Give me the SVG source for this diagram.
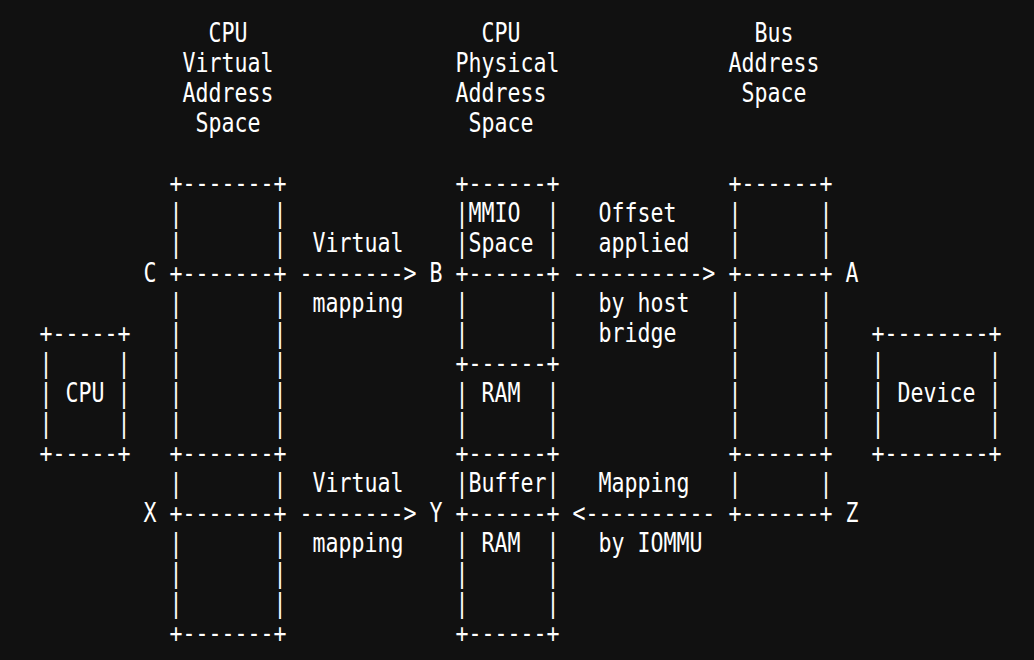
<svg xmlns="http://www.w3.org/2000/svg" width="1034" height="660" viewBox="0 0 1034 660" xml:space="preserve">
<style>
text{font-family:"DejaVu Sans Mono","Liberation Mono",monospace;font-size:26px;fill:#ffffff;white-space:pre}
</style>
<rect width="1034" height="660" fill="#111111"/>
<g id="headers">
<text transform="translate(208.5,42) scale(0.8305,1)">CPU</text>
<text transform="translate(182.5,72) scale(0.8305,1)">Virtual</text>
<text transform="translate(182.5,102) scale(0.8305,1)">Address</text>
<text transform="translate(195.5,132) scale(0.8305,1)">Space</text>
<text transform="translate(481.5,42) scale(0.8305,1)">CPU</text>
<text transform="translate(455.5,72) scale(0.8305,1)">Physical</text>
<text transform="translate(455.5,102) scale(0.8305,1)">Address</text>
<text transform="translate(468.5,132) scale(0.8305,1)">Space</text>
<text transform="translate(754.5,42) scale(0.8305,1)">Bus</text>
<text transform="translate(728.5,72) scale(0.8305,1)">Address</text>
<text transform="translate(741.5,102) scale(0.8305,1)">Space</text>
</g>
<g id="cpu-virtual-space">
<text transform="translate(169.5,192) scale(0.8305,1)">+-------+</text>
<text transform="translate(169.5,222) scale(0.8305,1)">|       |</text>
<text transform="translate(169.5,252) scale(0.8305,1)">|       |</text>
<text transform="translate(169.5,282) scale(0.8305,1)">+-------+</text>
<text transform="translate(169.5,312) scale(0.8305,1)">|       |</text>
<text transform="translate(169.5,342) scale(0.8305,1)">|       |</text>
<text transform="translate(169.5,372) scale(0.8305,1)">|       |</text>
<text transform="translate(169.5,402) scale(0.8305,1)">|       |</text>
<text transform="translate(169.5,432) scale(0.8305,1)">|       |</text>
<text transform="translate(169.5,462) scale(0.8305,1)">+-------+</text>
<text transform="translate(169.5,492) scale(0.8305,1)">|       |</text>
<text transform="translate(169.5,522) scale(0.8305,1)">+-------+</text>
<text transform="translate(169.5,552) scale(0.8305,1)">|       |</text>
<text transform="translate(169.5,582) scale(0.8305,1)">|       |</text>
<text transform="translate(169.5,612) scale(0.8305,1)">|       |</text>
<text transform="translate(169.5,642) scale(0.8305,1)">+-------+</text>
<text transform="translate(143.5,282) scale(0.8305,1)">C</text>
<text transform="translate(143.5,522) scale(0.8305,1)">X</text>
</g>
<g id="cpu-physical-space">
<text transform="translate(455.5,192) scale(0.8305,1)">+------+</text>
<text transform="translate(455.5,222) scale(0.8305,1)">|MMIO  |</text>
<text transform="translate(455.5,252) scale(0.8305,1)">|Space |</text>
<text transform="translate(455.5,282) scale(0.8305,1)">+------+</text>
<text transform="translate(455.5,312) scale(0.8305,1)">|      |</text>
<text transform="translate(455.5,342) scale(0.8305,1)">|      |</text>
<text transform="translate(455.5,372) scale(0.8305,1)">+------+</text>
<text transform="translate(455.5,402) scale(0.8305,1)">| RAM  |</text>
<text transform="translate(455.5,432) scale(0.8305,1)">|      |</text>
<text transform="translate(455.5,462) scale(0.8305,1)">+------+</text>
<text transform="translate(455.5,492) scale(0.8305,1)">|Buffer|</text>
<text transform="translate(455.5,522) scale(0.8305,1)">+------+</text>
<text transform="translate(455.5,552) scale(0.8305,1)">| RAM  |</text>
<text transform="translate(455.5,582) scale(0.8305,1)">|      |</text>
<text transform="translate(455.5,612) scale(0.8305,1)">|      |</text>
<text transform="translate(455.5,642) scale(0.8305,1)">+------+</text>
<text transform="translate(429.5,282) scale(0.8305,1)">B</text>
<text transform="translate(429.5,522) scale(0.8305,1)">Y</text>
</g>
<g id="bus-address-space">
<text transform="translate(728.5,192) scale(0.8305,1)">+------+</text>
<text transform="translate(728.5,222) scale(0.8305,1)">|      |</text>
<text transform="translate(728.5,252) scale(0.8305,1)">|      |</text>
<text transform="translate(728.5,282) scale(0.8305,1)">+------+</text>
<text transform="translate(728.5,312) scale(0.8305,1)">|      |</text>
<text transform="translate(728.5,342) scale(0.8305,1)">|      |</text>
<text transform="translate(728.5,372) scale(0.8305,1)">|      |</text>
<text transform="translate(728.5,402) scale(0.8305,1)">|      |</text>
<text transform="translate(728.5,432) scale(0.8305,1)">|      |</text>
<text transform="translate(728.5,462) scale(0.8305,1)">+------+</text>
<text transform="translate(728.5,492) scale(0.8305,1)">|      |</text>
<text transform="translate(728.5,522) scale(0.8305,1)">+------+</text>
<text transform="translate(845.5,282) scale(0.8305,1)">A</text>
<text transform="translate(845.5,522) scale(0.8305,1)">Z</text>
</g>
<g id="cpu">
<text transform="translate(39.5,342) scale(0.8305,1)">+-----+</text>
<text transform="translate(39.5,372) scale(0.8305,1)">|     |</text>
<text transform="translate(39.5,402) scale(0.8305,1)">| CPU |</text>
<text transform="translate(39.5,432) scale(0.8305,1)">|     |</text>
<text transform="translate(39.5,462) scale(0.8305,1)">+-----+</text>
</g>
<g id="device">
<text transform="translate(871.5,342) scale(0.8305,1)">+--------+</text>
<text transform="translate(871.5,372) scale(0.8305,1)">|        |</text>
<text transform="translate(871.5,402) scale(0.8305,1)">| Device |</text>
<text transform="translate(871.5,432) scale(0.8305,1)">|        |</text>
<text transform="translate(871.5,462) scale(0.8305,1)">+--------+</text>
</g>
<g id="connectors">
<text transform="translate(312.5,252) scale(0.8305,1)">Virtual</text>
<text transform="translate(299.5,282) scale(0.8305,1)">--------&gt;</text>
<text transform="translate(312.5,312) scale(0.8305,1)">mapping</text>
<text transform="translate(598.5,222) scale(0.8305,1)">Offset</text>
<text transform="translate(598.5,252) scale(0.8305,1)">applied</text>
<text transform="translate(572.5,282) scale(0.8305,1)">----------&gt;</text>
<text transform="translate(598.5,312) scale(0.8305,1)">by host</text>
<text transform="translate(598.5,342) scale(0.8305,1)">bridge</text>
<text transform="translate(312.5,492) scale(0.8305,1)">Virtual</text>
<text transform="translate(299.5,522) scale(0.8305,1)">--------&gt;</text>
<text transform="translate(312.5,552) scale(0.8305,1)">mapping</text>
<text transform="translate(598.5,492) scale(0.8305,1)">Mapping</text>
<text transform="translate(572.5,522) scale(0.8305,1)">&lt;----------</text>
<text transform="translate(598.5,552) scale(0.8305,1)">by IOMMU</text>
</g>
</svg>
